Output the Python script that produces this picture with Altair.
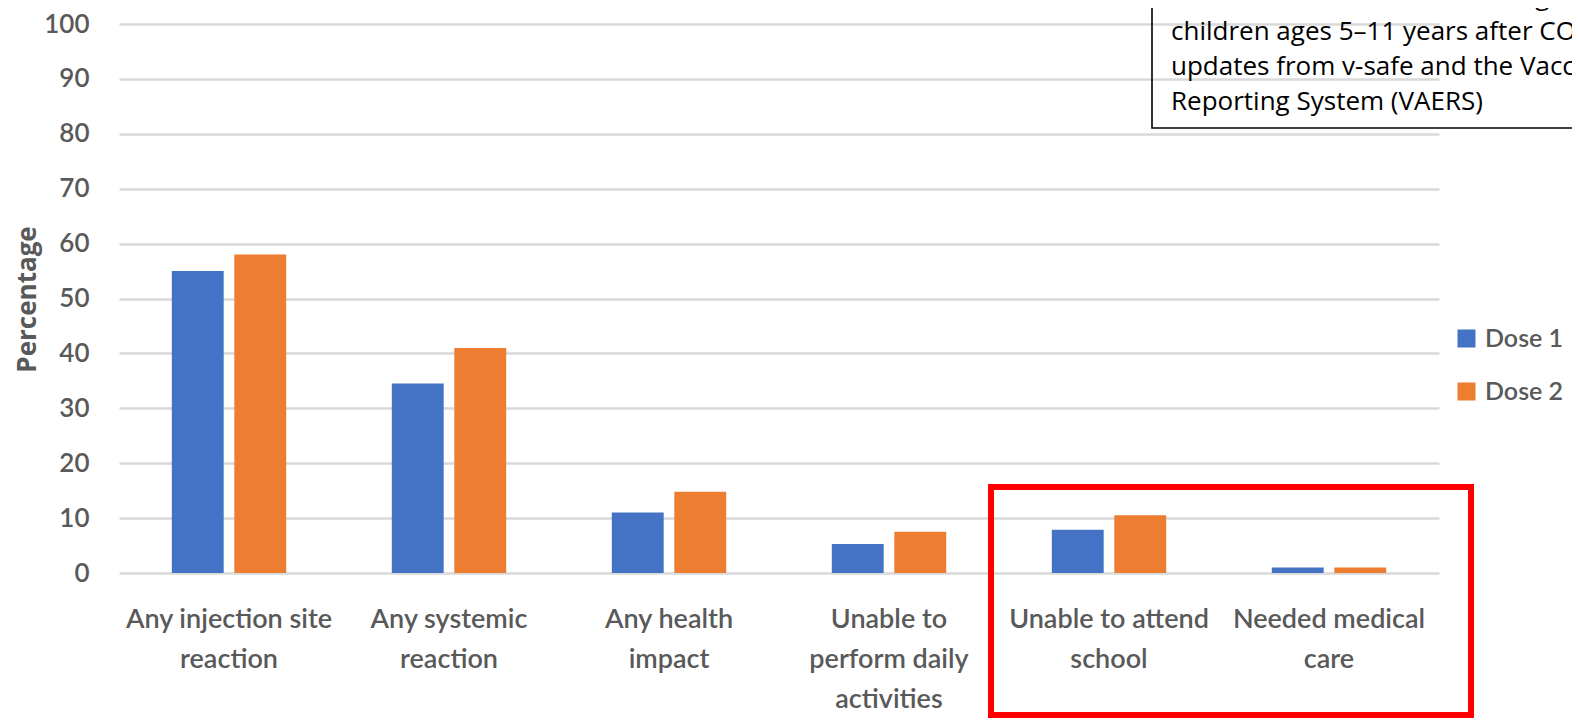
import altair as alt
import pandas as pd

categories = [
    "Any injection site\nreaction",
    "Any systemic\nreaction",
    "Any health\nimpact",
    "Unable to\nperform daily\nactivities",
    "Unable to attend\nschool",
    "Needed medical\ncare",
]
series = ["Dose 1", "Dose 2"]
dose1 = [55, 34.5, 11, 5.3, 7.9, 1.0]
dose2 = [58, 41, 14.8, 7.5, 10.5, 1.0]
y_ticks = list(range(0, 101, 10))
source_lines = [
    "出典：2021.12.16 ACIP MeetingAdverse events in",
    "children ages 5–11 years after COVID-19 vaccination:",
    "updates from v-safe and the Vaccine Adverse Event",
    "Reporting System (VAERS)",
]

rows = []
for c, a, b in zip(categories, dose1, dose2):
    rows.append({"category": c, "dose": series[0], "value": a})
    rows.append({"category": c, "dose": series[1], "value": b})
df = pd.DataFrame(rows)

FONT = "Lato"
GREY = "#595959"

bars = alt.Chart(df).mark_bar().encode(
    x=alt.X(
        "category:N",
        sort=categories,
        scale=alt.Scale(paddingInner=0.48, paddingOuter=0.24),
        axis=alt.Axis(
            title=None,
            labelAngle=0,
            labelExpr="split(datum.label, '\\n')",
            labelFontSize=27,
            labelFontWeight=600,
            labelLineHeight=40,
            labelColor=GREY,
            labelFont=FONT,
            labelPadding=33,
            labelLimit=0,
            ticks=False,
            tickSize=0,
            domain=False,
            grid=False,
        ),
    ),
    xOffset=alt.XOffset("dose:N", sort=series, scale=alt.Scale(paddingInner=0.17)),
    y=alt.Y(
        "value:Q",
        scale=alt.Scale(domain=[0, 100], nice=False),
        axis=alt.Axis(
            values=y_ticks,
            title="Percentage",
            titleFont="Open Sans",
            titleFontSize=26,
            titleFontWeight="bold",
            titleColor=GREY,
            titleX=-92,
            titleY=275,
            titleBaseline="middle",
            titleAlign="center",
            labelFontSize=26,
            labelFontWeight=600,
            labelColor=GREY,
            labelFont=FONT,
            labelPadding=30,
            ticks=False,
            tickSize=0,
            domain=False,
            grid=True,
            gridColor="#d9d9d9",
            gridWidth=2.5,
        ),
    ),
    color=alt.Color(
        "dose:N",
        scale=alt.Scale(domain=series, range=["#4472C4", "#ED7D31"]),
        legend=alt.Legend(
            title=None,
            orient="none",
            legendX=1335,
            legendY=302,
            padding=0,
            symbolType="square",
            symbolSize=324,
            symbolStrokeWidth=0,
            labelFontSize=25,
            labelFontWeight=600,
            labelFont=FONT,
            labelColor=GREY,
            labelOffset=6,
            rowPadding=27,
        ),
    ),
)

dummy = pd.DataFrame({"k": [0]})

red_box = alt.Chart(dummy).mark_rect(filled=False, stroke="#ff0000", strokeWidth=6).encode(
    x=alt.value(872), x2=alt.value(1352), y=alt.value(463), y2=alt.value(691)
)

src_box = alt.Chart(dummy).mark_rect(filled=False, stroke="#000000", strokeWidth=1.6).encode(
    x=alt.value(1033), x2=alt.value(1600), y=alt.value(-60), y2=alt.value(104)
)

src_text = alt.Chart(dummy).mark_text(
    align="left", baseline="alphabetic", fontSize=26, font="Open Sans, Noto Sans CJK JP",
    color="#000000", lineHeight=35,
).encode(
    x=alt.value(1052), y=alt.value(-19), text=alt.value(source_lines)
)

chart = alt.layer(bars, red_box, src_box, src_text).properties(
    width=1320,
    height=549,
    autosize=alt.AutoSizeParams(type="none"),
    padding={"left": 111, "top": 16, "right": 133, "bottom": 145},
).configure_view(stroke=None)

chart.save("out.html", embed_options={"renderer": "svg", "actions": False})
